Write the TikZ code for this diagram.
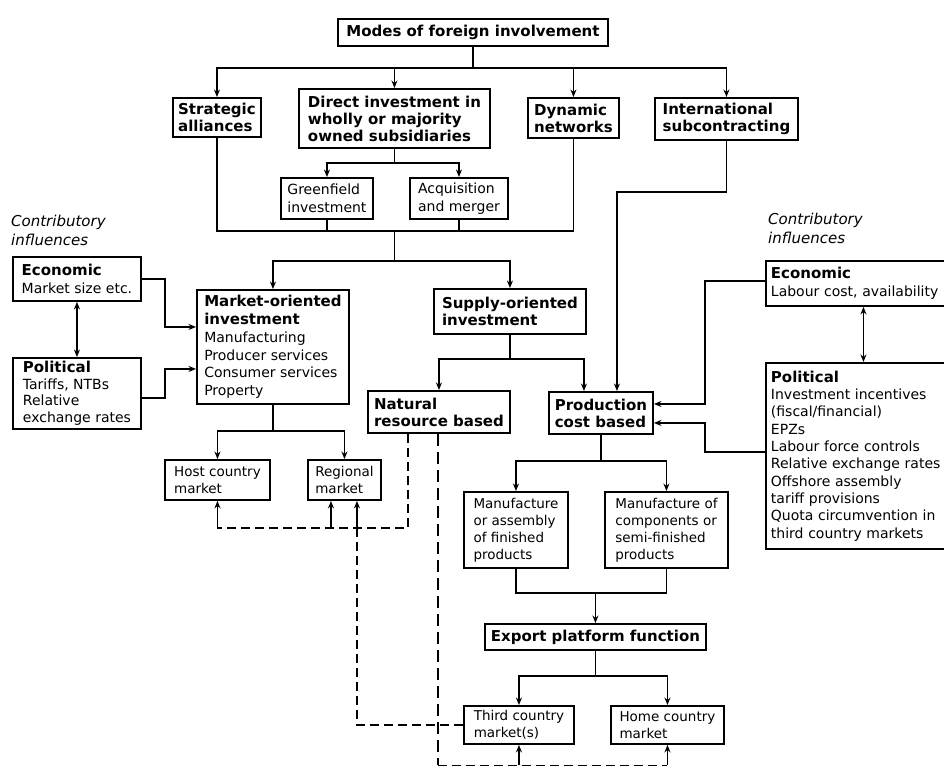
\documentclass[tikz,border=0pt]{standalone}
\usepackage{fontspec}
\setmainfont{DejaVu Sans}[ItalicFont={DejaVu Sans Oblique},BoldFont={DejaVu Sans Bold},BoldItalicFont={DejaVu Sans Bold Oblique}]
\usetikzlibrary{arrows.meta}
\newcommand{\hdtxt}[1]{{\fontsize{15}{17.5}\selectfont\bfseries #1}}
\begin{document}
\begin{tikzpicture}[x=1pt,y=-1pt,
  box/.style={draw, line width=1.9pt, anchor=north west, align=left, inner xsep=4pt, inner ysep=2pt},
  hd/.style={font=\fontsize{15}{17}\selectfont\bfseries},
  tx/.style={font=\fontsize{14}{17.7}\selectfont},
  sm/.style={font=\fontsize{13.5}{17}\selectfont},
  wire/.style={line width=1.8pt},
  arr/.style={wire, -{Stealth[length=7.5pt,width=6pt]}},
  darr/.style={wire, {Stealth[length=7.5pt,width=6pt]}-{Stealth[length=7.5pt,width=6pt]}},
  dsh/.style={line width=1.7pt, dash pattern=on 9pt off 5pt},
  dshk/.style={line width=2.5pt, dash pattern=on 12pt off 6pt},
  note/.style={anchor=north west, align=left, inner sep=0pt, font=\fontsize{15}{19}\selectfont\itshape},
]
\useasboundingbox (0,0) rectangle (944,769);
\clip (0,0) rectangle (944,769);
\fill[white] (0,0) rectangle (944,769);

% ---------- boxes ----------
\node[box,hd,minimum width=270pt,minimum height=27pt] (modes) at (337,18) {Modes of foreign involvement};
\node[box,hd,minimum width=88pt,minimum height=39pt] (strat) at (172,97) {Strategic\\alliances};
\node[box,hd,minimum width=191pt,minimum height=59pt] (direct) at (298,88) {Direct investment in\\wholly or majority\\owned subsidiaries};
\node[box,hd,minimum width=91pt,minimum height=40pt] (dyn) at (527,97) {Dynamic\\networks};
\node[box,hd,minimum width=143pt,minimum height=42pt] (intl) at (654,97) {International\\subcontracting};
\node[box,tx,minimum width=92pt,minimum height=41pt] (green) at (280,177) {Greenfield\\investment};
\node[box,tx,minimum width=98pt,minimum height=41pt] (acq) at (409,177) {Acquisition\\and merger};
\node[box,tx,minimum width=152pt,minimum height=114pt] (market) at (196,289) {\hdtxt{Market-oriented}\\\hdtxt{investment}\\Manufacturing\\Producer services\\Consumer services\\Property};
\node[box,hd,minimum width=152pt,minimum height=45pt] (supply) at (433,288) {Supply-oriented\\investment};
\node[box,hd,minimum width=142pt,minimum height=42pt] (natural) at (367,390) {Natural\\resource based};
\node[box,hd,minimum width=104pt,minimum height=42pt] (prod) at (548,391) {Production\\cost based};
\node[box,tx,minimum width=128pt,minimum height=44pt] (econL) at (12,256) {\hdtxt{Economic}\\Market size etc.};
\node[box,font=\fontsize{14}{16.5}\selectfont,minimum width=128pt,minimum height=71pt] (polL) at (12,357) {\hdtxt{Political}\\Tariffs, NTBs\\Relative\\exchange rates};
\node[box,sm,minimum width=105pt,minimum height=40pt] (host) at (164,459) {Host country\\market};
\node[box,sm,minimum width=73pt,minimum height=40pt] (regional) at (307,459) {Regional\\market};
\node[box,sm,minimum width=104pt,minimum height=76pt] (manA) at (463,491) {Manufacture\\or assembly\\of finished\\products};
\node[box,sm,minimum width=123pt,minimum height=76pt] (manB) at (604,491) {Manufacture of\\components or\\semi-finished\\products};
\node[box,hd,minimum width=221pt,minimum height=26pt] (export) at (484,623) {Export platform function};
\node[box,sm,minimum width=110pt,minimum height=38pt] (third) at (463,705) {Third country\\market(s)};
\node[box,sm,minimum width=113pt,minimum height=38pt] (home) at (610,705) {Home country\\market};
\node[box,tx,minimum width=195pt,minimum height=45pt,text width=185pt] (econR) at (765,260) {\hdtxt{Economic}\\Labour cost, availability};
\node[box,font=\fontsize{14}{17.3}\selectfont,minimum width=195pt,minimum height=186pt,text width=185pt] (polR) at (765,362) {\hdtxt{Political}\\Investment incentives\\(fiscal/financial)\\EPZs\\Labour force controls\\Relative exchange rates\\Offshore assembly\\tariff provisions\\Quota circumvention in\\third country markets};

\node[note] (cinfL) at (11,215) {Contributory\\influences};
\node[note] (cinfR) at (768,213) {Contributory\\influences};

% ---------- modes of involvement ----------
\coordinate (b1) at (modes.south |- 0,68);
\draw[wire] (modes) -- (b1);
\foreach \n in {strat,direct,dyn,intl} \draw[arr] (b1) -| (\n);

\coordinate (b2) at (direct.south |- 0,163);
\draw[wire] (direct) -- (b2);
\draw[arr] (b2) -| (green);
\draw[arr] (b2) -| (acq);

\coordinate (b3) at (direct.south |- 0,231);
\draw[wire] (strat) |- (b3);
\draw[wire] (dyn) |- (b3);
\draw[wire] (green) -- (green |- b3);
\draw[wire] (acq) -- (acq |- b3);
\coordinate (b4) at (direct.south |- 0,261);
\draw[wire] (b3) -- (b4);
\draw[arr] (b4) -| (market);
\draw[arr] (b4) -| (supply);

% subcontracting feeds production cost based
\coordinate (b5) at (intl.south |- 0,192);
\draw[arr] (intl) -- (b5) -| ([xshift=16pt]prod.north);

% supply-oriented split
\coordinate (b6) at (supply.south |- 0,359);
\draw[wire] (supply) -- (b6);
\draw[arr] (b6) -| (natural);
\draw[arr] (b6) -| ([xshift=-17pt]prod.north);

% market-oriented split
\coordinate (b7) at (market.south |- 0,431);
\draw[wire] (market) -- (b7);
\draw[arr] (b7) -| (host);
\draw[arr] (b7) -| (regional);

% left-hand influences
\draw[arr] (econL.east) -- ++(23,0) |- ([yshift=20pt]market.west);
\draw[arr] ([yshift=-4.5pt]polL.east) -- ++(23,0) |- ([yshift=-22pt]market.west);
\draw[darr] (econL) -- (polL);

% right-hand influences
\draw[arr] ([yshift=2.5pt]econR.west) -- ++(-60,0) |- ([yshift=9pt]prod.east);
\draw[arr] ([yshift=4pt]polR.west) -- ++(-60,0) |- ([yshift=-10pt]prod.east);
\draw[darr] (econR) -- (polR);

% production cost based split and merge
\coordinate (b8) at (prod.south |- 0,461);
\draw[wire] (prod) -- (b8);
\draw[arr] (b8) -| (manA);
\draw[arr] (b8) -| (manB);
\coordinate (b9) at (export.north |- 0,593);
\draw[wire] (manA) |- (b9);
\draw[wire] (manB) |- (b9);
\draw[arr] (b9) -- (export);

% export platform split
\coordinate (b10) at (export.south |- 0,676);
\draw[wire] (export) -- (b10);
\draw[arr] (b10) -| (third);
\draw[arr] (b10) -| (home);

% dashed market links
\coordinate (d0) at ([xshift=-31pt]natural.south);
\coordinate (d1) at (d0 |- 0,528);
\draw[dsh] (d0) -- (d1) -- (host.south |- d1);
\draw[arr] (host.south |- d1) -- (host);
\coordinate (d2) at ([xshift=-13.5pt]regional.south);
\draw[arr] (d2 |- d1) -- (d2);
\coordinate (d3) at ([xshift=12.5pt]regional.south);
\draw[dsh] (third.west) -| (d3 |- d1);
\draw[arr] (d3 |- d1) -- (d3);

\coordinate (d4) at ([xshift=-1pt]natural.south);
\coordinate (d5) at (d4 |- 0,765);
\draw[dshk] (d4) -- (d5);
\draw[dsh,line width=1pt] (d5) -- (home.south |- d5);
\draw[arr] (third.south |- d5) -- (third);
\draw[arr] (home.south |- d5) -- (home);
\end{tikzpicture}
\end{document}
